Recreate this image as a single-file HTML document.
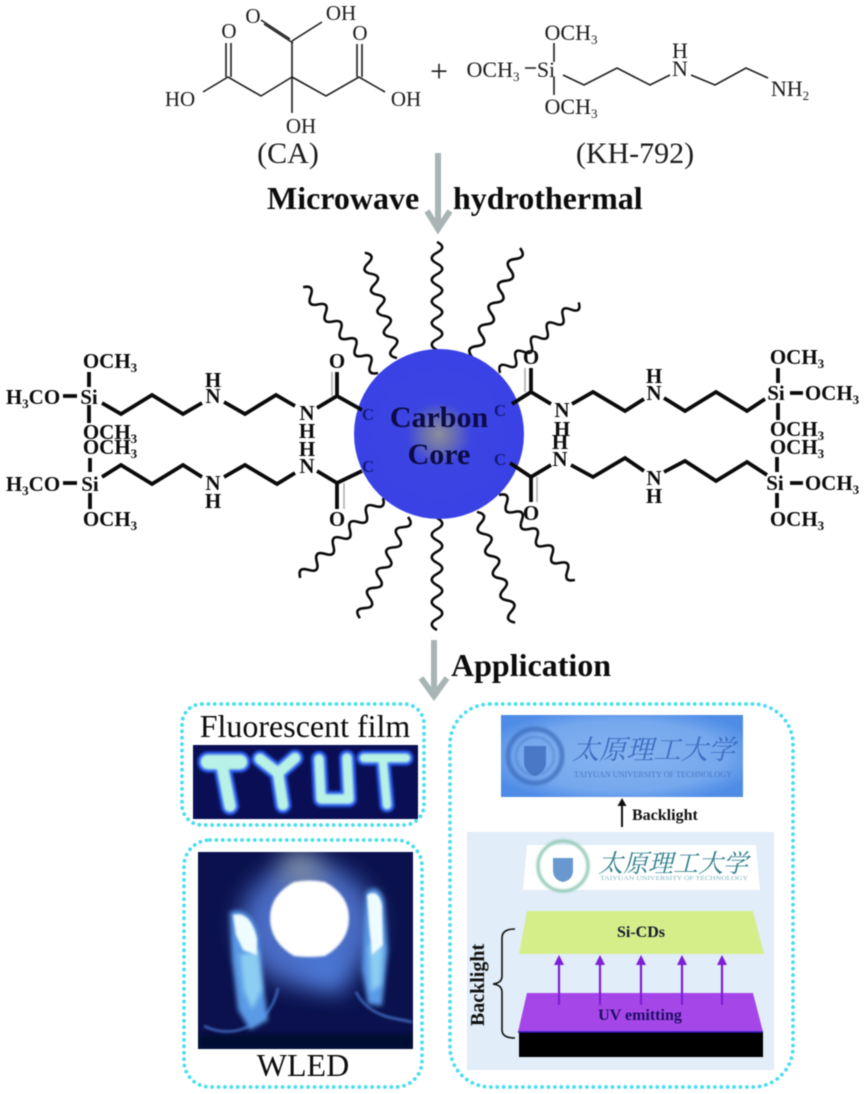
<!DOCTYPE html>
<html>
<head>
<meta charset="utf-8">
<style>
html,body{margin:0;padding:0;background:#fff;width:864px;height:1094px;overflow:hidden}
svg{display:block;filter:blur(.4px)}
text{font-family:"Liberation Serif","Noto Serif CJK SC",serif}
.m{font-size:21px;font-weight:bold;fill:#0c0c0c;text-anchor:middle}
.t{font-size:22px;fill:#1c1c1c;text-anchor:middle}
.b{stroke:#0a0a0a;stroke-width:3.8;fill:none;stroke-linejoin:miter}
.g{stroke:#aaa;stroke-width:1.5;fill:none}
.c{stroke:#1e1e1e;stroke-width:1.6;fill:none}
.c1{font-size:17px;font-weight:bold;fill:#141a80;text-anchor:middle}
.dot{fill:none;stroke:#4adcf0;stroke-width:3.8;stroke-linecap:round;stroke-dasharray:0 6.4}
.big{font-size:32px;font-weight:bold;fill:#0c0c0c}
</style>
</head>
<body>
<svg width="864" height="1094" viewBox="0 0 864 1094" xmlns="http://www.w3.org/2000/svg">
<defs>
<path id="w" d="M0 0q5.75 -10.5 11.5 0t11.5 0t11.5 0t11.5 0t11.5 0t11.5 0t11.5 0t11.5 0t11.5 0t11.5 0" fill="none" stroke="#0a0a0a" stroke-width="2.6"/>
<radialGradient id="core"><stop offset="0" stop-color="#8b8f9c"/><stop offset=".16" stop-color="#6c72b0"/><stop offset=".38" stop-color="#3c44e2"/><stop offset="1" stop-color="#3a42e6"/></radialGradient>
<radialGradient id="blueP" cx=".5" cy=".5" r=".6"><stop offset="0" stop-color="#86b3f0"/><stop offset=".7" stop-color="#76a8ee"/><stop offset="1" stop-color="#4e8ce6"/></radialGradient>
<filter id="f1" x="-50%" y="-50%" width="200%" height="200%"><feGaussianBlur stdDeviation="1"/></filter>
<filter id="f2" x="-50%" y="-50%" width="200%" height="200%"><feGaussianBlur stdDeviation="2.5"/></filter>
<filter id="f8" x="-80%" y="-80%" width="260%" height="260%"><feGaussianBlur stdDeviation="12"/></filter>
<clipPath id="wl"><rect x="198" y="852" width="215" height="197"/></clipPath>
<clipPath id="fl"><rect x="193" y="745" width="225" height="74"/></clipPath>
</defs>

<!-- citric acid -->
<g class="c">
<path d="M292 77V41M292 41L322 22M290 39L261 20M293 43L264 24M292 77L261 96L228 77L203 92M226 77V43M231 77V43M292 77L326 96L359 77L385 92M357 77V44M362 77V44M292 77V113"/>
<path d="M554 43V62M554 77V95M525 68H536M563 75L584 85L617 68L650 85L670 75M691 75L715 85L746 68L768 78"/>
</g>
<g style="font-size:21px" fill="#1c1c1c" text-anchor="middle">
<text x="253" y="23">O</text><text x="341" y="20">OH</text>
<text x="229" y="38">O</text><text x="360" y="40">O</text>
<text x="180" y="106">HO</text><text x="406" y="106">OH</text>
<text x="301" y="133">OH</text>
</g>
<text x="288" y="163" font-size="30" fill="#1c1c1c" text-anchor="middle">(CA)</text>
<text x="635" y="163" font-size="30" fill="#1c1c1c" text-anchor="middle">(KH-792)</text>
<text x="439" y="82" font-size="32" fill="#1c1c1c" text-anchor="middle">+</text>
<g class="t">
<text class="t" x="571" y="40">OCH<tspan font-size="13" dy="4">3</tspan></text>
<text class="t" x="493" y="77">OCH<tspan font-size="13" dy="4">3</tspan></text>
<text class="t" x="546" y="77">Si</text>
<text class="t" x="571" y="114">OCH<tspan font-size="13" dy="4">3</tspan></text>
<text class="t" x="680" y="76">N</text>
<text class="t" x="680" y="58">H</text>
<text class="t" x="790" y="96">NH<tspan font-size="13" dy="4">2</tspan></text>
</g>

<!-- microwave -->
<text class="big" x="267" y="209">Microwave</text>
<text class="big" x="453" y="209">hydrothermal</text>
<path d="M438 153V226M427 211L438 229L450 211" fill="none" stroke="#a9b5b5" stroke-width="6"/>

<!-- waves -->
<use href="#w" transform="translate(437 350) rotate(-90) scale(.94 1)"/>
<use href="#w" transform="translate(472 357) rotate(-66.2) scale(1.035 1)"/>
<use href="#w" transform="translate(500 373) rotate(-41.9) scale(.92 1)"/>
<use href="#w" transform="translate(397 358) rotate(-107) scale(.957 1)"/>
<use href="#w" transform="translate(378 373) rotate(-131.1) scale(.99 1)"/>
<use href="#w" transform="translate(437 518) rotate(90) scale(.974 1)"/>
<use href="#w" transform="translate(408 517) rotate(115.4) scale(.974 1)"/>
<use href="#w" transform="translate(383 498) rotate(136) scale(1 1)"/>
<use href="#w" transform="translate(477 512) rotate(71) scale(1.017 1)"/>
<use href="#w" transform="translate(499 495) rotate(48.2) scale(.99 1)"/>

<!-- core -->
<circle cx="439" cy="434" r="85" fill="url(#core)"/>
<text x="439" y="427" font-size="30" font-weight="bold" fill="#0b0b45" text-anchor="middle">Carbon</text>
<text x="439" y="464" font-size="30" font-weight="bold" fill="#0b0b45" text-anchor="middle">Core</text>
<text class="c1" x="368" y="420">C</text><text class="c1" x="368" y="472">C</text>
<text class="c1" x="500" y="416">C</text><text class="c1" x="500" y="465">C</text>

<!-- left chains -->
<path class="b" d="M102 403L121 414L152 395L183 414L202 403M224 402L245 414L276 395L295 406M317 408L337 396L362 410M337 396V372M63 396H77M89 372V387M89 405V423"/>
<path class="b" d="M102 477L121 465L152 484L183 465L202 477M224 477L245 465L277 484L295 473M317 471L337 483L362 471M337 483V509M63 483H77M90 458V472M90 493V509"/>
<path class="g" d="M332 372V396M344 483V509"/>
<text class="m" x="89" y="404">Si</text>
<text class="m" x="33" y="404">H<tspan font-size="13" dy="4">3</tspan><tspan dy="-4">CO</tspan></text>
<text class="m" x="110" y="368">OCH<tspan font-size="13" dy="4">3</tspan></text>
<text class="m" x="110" y="439">OCH<tspan font-size="13" dy="4">3</tspan></text>
<text class="m" x="90" y="491">Si</text>
<text class="m" x="33" y="491">H<tspan font-size="13" dy="4">3</tspan><tspan dy="-4">CO</tspan></text>
<text class="m" x="110" y="454">OCH<tspan font-size="13" dy="4">3</tspan></text>
<text class="m" x="110" y="526">OCH<tspan font-size="13" dy="4">3</tspan></text>
<text class="m" x="213" y="403">N</text><text class="m" x="213" y="387">H</text>
<text class="m" x="307" y="420">N</text><text class="m" x="307" y="438">H</text>
<text class="m" x="307" y="456">H</text><text class="m" x="307" y="473">N</text>
<text class="m" x="213" y="490">N</text><text class="m" x="213" y="508">H</text>
<text class="m" x="337" y="368">O</text><text class="m" x="337" y="526">O</text>

<!-- right chains -->
<path class="b" d="M512 404L531 392L551 404M572 404L593 392L625 411L644 399M664 398L685 411L716 392L747 411L765 399M531 392V368M790 393H803M778 368V383M778 403V420"/>
<path class="b" d="M510 463L531 477L551 465M571 465L593 477L625 458L644 471M664 472L685 461L716 481L747 462L767 475M531 477V502M790 483H803M777 457V472M777 493V508"/>
<path class="g" d="M525 368V392M537 477V502"/>
<text class="m" x="776" y="400">Si</text>
<text class="m" x="832" y="400">OCH<tspan font-size="13" dy="4">3</tspan></text>
<text class="m" x="797" y="364">OCH<tspan font-size="13" dy="4">3</tspan></text>
<text class="m" x="797" y="436">OCH<tspan font-size="13" dy="4">3</tspan></text>
<text class="m" x="775" y="490">Si</text>
<text class="m" x="832" y="490">OCH<tspan font-size="13" dy="4">3</tspan></text>
<text class="m" x="797" y="454">OCH<tspan font-size="13" dy="4">3</tspan></text>
<text class="m" x="797" y="526">OCH<tspan font-size="13" dy="4">3</tspan></text>
<text class="m" x="654" y="400">N</text><text class="m" x="654" y="383">H</text>
<text class="m" x="562" y="417">N</text><text class="m" x="562" y="436">H</text>
<text class="m" x="560" y="449">H</text><text class="m" x="560" y="466">N</text>
<text class="m" x="654" y="485">N</text><text class="m" x="654" y="503">H</text>
<text class="m" x="531" y="364">O</text><text class="m" x="531" y="520">O</text>

<!-- application -->
<text class="big" x="451" y="676">Application</text>
<path d="M434 640V694M421 678L434 696L447 678" fill="none" stroke="#a9b5b5" stroke-width="6"/>

<!-- fluorescent film -->
<rect class="dot" x="182" y="704" width="242" height="121" rx="20"/>
<text x="305" y="737" font-size="32" fill="#0c0c0c" text-anchor="middle">Fluorescent film</text>
<rect x="193" y="745" width="225" height="74" fill="#0a0f55"/>
<g clip-path="url(#fl)" fill="none" stroke-linecap="round" stroke-linejoin="round">
<g stroke="#2a5cf0" filter="url(#f1)">
<path stroke-width="21" d="M208 762H240"/><path stroke-width="18" d="M222 765L230 806"/>
<path stroke-width="17" d="M260 759L278 773L295 758M278 773L283 805"/>
<path stroke-width="16" d="M319 759L321 799H349L347 758"/>
<path stroke-width="15" d="M364 758H406M383 762L387 805"/>
</g>
<g stroke="#b8f2e6" filter="url(#f1)">
<path stroke-width="15" d="M208 762H240"/><path stroke-width="12" d="M222 765L230 806"/>
<path stroke-width="11" d="M260 759L278 773L295 758M278 773L283 805"/>
<path stroke-width="10" d="M319 759L321 799H349L347 758"/>
<path stroke-width="9" d="M364 758H406M383 762L387 805"/>
</g>
</g>

<!-- WLED -->
<rect class="dot" x="184" y="840" width="238" height="247" rx="26"/>
<rect x="198" y="852" width="215" height="197" fill="#0a114c"/>
<g clip-path="url(#wl)">
<ellipse cx="308" cy="925" rx="68" ry="62" fill="#4a6cc4" filter="url(#f8)"/>
<path d="M285 852L312 852L330 885L280 885Z" fill="#7f8ea6" filter="url(#f8)"/>
<path d="M290 950L345 950L345 995L315 985Z" fill="#4c78d6" filter="url(#f8)"/>
<rect x="198" y="1034" width="215" height="15" fill="#050930" filter="url(#f2)"/>
<path d="M204 1026Q225 1036 245 1028Q272 1018 278 988" fill="none" stroke="#3f68bc" stroke-width="2.5" filter="url(#f1)"/>
<path d="M356 992Q366 1012 392 1018L412 1022" fill="none" stroke="#3f68bc" stroke-width="2.5" filter="url(#f1)"/>
<path d="M230 912Q250 905 258 935L264 990L268 1020L250 1030L238 1010L232 960Z" fill="#5a9ae6" filter="url(#f2)"/>
<path d="M366 892Q378 882 384 900L388 950L382 1006L368 1004L362 970L364 930Z" fill="#5a9ae6" filter="url(#f2)"/>
<path d="M240 955L258 950L262 990L252 1010L244 990Z" fill="#8ccdf2" filter="url(#f2)"/>
<path d="M369 945L383 945L381 985L371 992Z" fill="#8ccdf2" filter="url(#f2)"/>
<path d="M233 915Q250 910 257 938L257 955L243 950L236 935Z" fill="#eefcff" filter="url(#f1)"/>
<path d="M367 895Q378 888 382 905L383 945L372 955L369 925Z" fill="#eefcff" filter="url(#f1)"/>
<path d="M294 882Q309 879 325 882Q349 895 349 918Q349 942 325 956Q309 958 294 956Q270 942 270 918Q270 895 294 882Z" fill="#fff" filter="url(#f1)"/>
</g>
<text x="303" y="1076" font-size="32" fill="#0c0c0c" text-anchor="middle">WLED</text>

<!-- right panel -->
<rect class="dot" x="450" y="704" width="343" height="383" rx="40"/>
<rect x="501" y="715" width="242" height="82" fill="url(#blueP)"/>
<g fill="none" stroke="#3d6cba" filter="url(#f1)" opacity=".7">
<circle cx="535" cy="756" r="27" stroke-width="5"/>
<circle cx="535" cy="756" r="19" stroke-width="1.2"/>
</g>
<path d="M524 746H546V762Q546 772 535 776Q524 772 524 762Z" fill="#4270c0" opacity=".85"/>
<text x="572" y="759" font-size="27" font-style="italic" fill="#3e6cc0" textLength="163" lengthAdjust="spacingAndGlyphs">太原理工大学</text>
<text x="574" y="777" font-size="8" fill="#4a78c4" textLength="158" lengthAdjust="spacingAndGlyphs">TAIYUAN UNIVERSITY OF TECHNOLOGY</text>
<path d="M622 827V802" stroke="#111" stroke-width="2"/>
<path d="M622 798L626.5 806H617.5Z" fill="#111"/>
<text x="632" y="820" font-size="16" font-weight="bold" fill="#111">Backlight</text>

<rect x="467" y="832" width="307" height="238" fill="#e1edf8"/>
<path d="M527 845H756L760 890H523Z" fill="#fff"/>
<g fill="none" stroke="#8fc8b4" filter="url(#f1)">
<circle cx="563" cy="866" r="25" stroke-width="3"/>
</g>
<path d="M553 858H573V870Q573 880 563 882Q553 880 553 870Z" fill="#4f86c8" opacity=".85"/>
<text x="598" y="872" font-size="25" font-style="italic" fill="#2f7f8a" textLength="150" lengthAdjust="spacingAndGlyphs">太原理工大学</text>
<text x="600" y="880" font-size="6.5" fill="#7fb4c0" textLength="148" lengthAdjust="spacingAndGlyphs">TAIYUAN UNIVERSITY OF TECHNOLOGY</text>

<path d="M527 911H753L764 954H519Z" fill="#d5ee8a"/>
<text x="641" y="937" font-size="16" font-weight="bold" fill="#141a30" text-anchor="middle">Si-CDs</text>

<path d="M527 993H753L763 1032H518Z" fill="#a546e8"/>
<rect x="519" y="1032" width="244" height="25" fill="#000"/>
<path d="M518 1032H763" stroke="#3318c0" stroke-width="1.5"/>
<g stroke="#7f1fd6" stroke-width="2.2" fill="#7f1fd6">
<path d="M559 1005V962M600 1005V962M641 1005V962M682 1005V962M722 1005V962"/>
<path stroke="none" d="M559 955L564 965H554ZM600 955L605 965H595ZM641 955L646 965H636ZM682 955L687 965H677ZM722 955L727 965H717Z"/>
</g>
<text x="640" y="1020" font-size="16" font-weight="bold" fill="#1c0e66" text-anchor="middle">UV emitting</text>

<path d="M515 929Q502 929 502 938V976Q502 983 493 984Q502 985 502 992V1030Q502 1038 515 1038" fill="none" stroke="#111" stroke-width="1.6"/>
<text transform="translate(484 985) rotate(-90)" font-size="20" font-weight="bold" fill="#111" text-anchor="middle">Backlight</text>
</svg>
</body>
</html>
